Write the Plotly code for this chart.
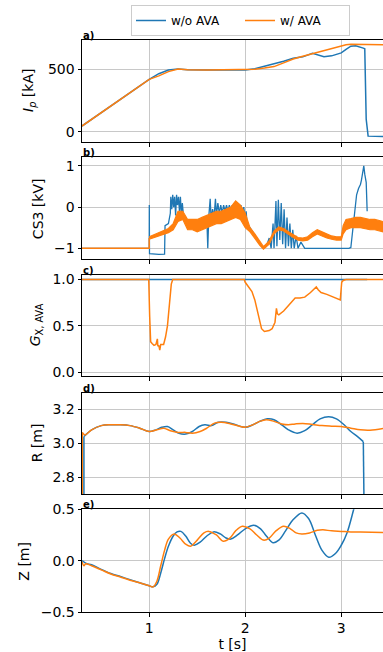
import plotly.graph_objects as go

BLUE = "#1f77b4"
ORANGE = "#ff7f0e"

# ---------------- data ----------------
# a) plasma current [kA]
t_ip_wo = [0.30, 0.50, 0.70, 0.90, 1.00, 1.10, 1.20, 1.30, 1.40, 1.60, 1.80, 2.00, 2.10, 2.20, 2.30, 2.40,
           2.50, 2.60, 2.70, 2.75, 2.82, 2.90, 3.00, 3.05, 3.10, 3.15, 3.20, 3.23, 3.245, 3.26, 3.28, 3.435]
ip_wo = [46, 153, 260, 367, 420, 465, 495, 503, 497, 495, 496, 495, 505, 525, 540, 565,
         588, 600, 628, 618, 601, 608, 632, 660, 685, 688, 680, 670, 665, 100, -35, -38]
t_ip_w = [0.30, 0.50, 0.70, 0.90, 1.00, 1.10, 1.20, 1.30, 1.40, 1.60, 1.80, 2.00, 2.10, 2.20, 2.30, 2.40,
          2.50, 2.60, 2.70, 2.80, 2.90, 3.00, 3.05, 3.10, 3.435]
ip_w = [46, 153, 260, 367, 420, 448, 482, 503, 497, 495, 496, 495, 500, 510, 522, 552,
        583, 605, 625, 645, 665, 688, 697, 700, 697]

# b) CS3 voltage [kV]
t_cs_wo = [0.30, 1.00, 1.001, 1.003, 1.10, 1.16, 1.165, 1.20, 1.22, 1.225, 1.235, 1.245, 1.255, 1.265, 1.275,
           1.285, 1.295, 1.305, 1.315, 1.325, 1.335, 1.345, 1.36, 1.38, 1.40, 1.43, 1.46, 1.49, 1.52, 1.55,
           1.58, 1.60, 1.61, 1.62, 1.635, 1.645, 1.66, 1.675, 1.69, 1.70, 1.715, 1.73, 1.745, 1.76, 1.775,
           1.79, 1.805, 1.82, 1.835, 1.85, 1.865, 1.88, 1.895, 1.91, 1.925, 1.94, 1.955, 1.97, 1.985, 2.00,
           2.01, 2.02, 2.05, 2.08, 2.12, 2.16, 2.19, 2.22, 2.25, 2.27, 2.29, 2.30, 2.32, 2.33, 2.345, 2.36,
           2.375, 2.39, 2.405, 2.42, 2.435, 2.45, 2.465, 2.48, 2.495, 2.51, 2.53, 2.55, 2.58, 2.62, 3.08,
           3.10, 3.12, 3.14, 3.16, 3.18, 3.20, 3.21, 3.22, 3.235, 3.245, 3.26, 3.27]
cs_wo = [-1.0, -1.0, 0.05, -1.13, -1.15, -1.14, -0.45, -0.40, -0.15, 0.25, -0.05, 0.30, 0.0, 0.25, -0.2,
         0.30, 0.05, 0.25, -0.1, 0.25, -0.2, 0.10, -0.30, -0.25, -0.40, -0.30, -0.45, -0.35, -0.45, -0.35,
         -0.40, -0.25, -1.0, -0.25, 0.20, -0.30, -0.05, -0.25, 0.20, -0.20, 0.10, -0.15, 0.05, -0.15, 0.05,
         -0.10, 0.05, -0.10, 0.05, -0.10, 0.05, -0.10, 0.05, -0.10, 0.05, -0.10, 0.05, -0.10, 0.0, -0.30,
         -0.10, -0.45, -0.50, -0.60, -0.75, -0.92, -1.0, -0.95, -0.75, -1.0, -0.40, -1.0, 0.15, -0.95, 0.18, -0.80,
         0.10, -0.90, -0.05, -1.0, -0.25, -0.95, -0.40, -1.0, -0.55, -1.0, -0.70, -1.0, -0.85, -1.0, -1.0,
         -0.98, -0.50, -0.20, 0.30, 0.45, 0.55, 0.65, 0.80, 1.0, 0.80, 0.60, -0.10]
t_cs_w_flat = [0.30, 1.00, 1.00]
cs_w_flat = [-1.0, -1.0, -0.75]
# orange noisy band (lower / upper envelope)
t_cs_band = [1.00, 1.10, 1.20, 1.25, 1.30, 1.35, 1.40, 1.45, 1.50, 1.55, 1.60, 1.65, 1.70, 1.75, 1.80, 1.85,
             1.90, 1.95, 2.00, 2.05, 2.10, 2.15, 2.19, 2.25, 2.30, 2.35, 2.40, 2.45, 2.50, 2.55, 2.60, 2.65,
             2.70, 2.75, 2.80, 2.85, 2.90, 2.95, 3.00, 3.02, 3.05, 3.10, 3.15, 3.20, 3.25, 3.30, 3.35, 3.40, 3.435]
cs_w_lo = [-0.78, -0.70, -0.62, -0.55, -0.35, -0.30, -0.55, -0.55, -0.60, -0.55, -0.50, -0.45, -0.40, -0.40,
           -0.35, -0.30, -0.25, -0.30, -0.50, -0.60, -0.75, -0.92, -1.02, -0.90, -0.65, -0.55, -0.58, -0.66,
           -0.74, -0.80, -0.82, -0.80, -0.72, -0.65, -0.70, -0.75, -0.78, -0.80, -0.80, -0.65, -0.55, -0.50,
           -0.50, -0.50, -0.52, -0.55, -0.55, -0.58, -0.60]
cs_w_hi = [-0.72, -0.62, -0.52, -0.40, -0.10, -0.10, -0.30, -0.30, -0.30, -0.25, -0.20, -0.15, -0.10, -0.10,
           -0.05, 0.00, 0.15, 0.05, -0.15, -0.50, -0.65, -0.84, -0.96, -0.82, -0.58, -0.48, -0.52, -0.60,
           -0.68, -0.74, -0.75, -0.72, -0.62, -0.55, -0.60, -0.66, -0.70, -0.72, -0.72, -0.45, -0.30, -0.28,
           -0.25, -0.25, -0.28, -0.30, -0.30, -0.32, -0.35]

# c) G_X,AVA
t_g_wo = [0.30, 3.27]
g_wo = [1.0, 1.0]
t_g_w = [0.30, 0.995, 1.005, 1.015, 1.03, 1.05, 1.07, 1.085, 1.09, 1.10, 1.11, 1.12, 1.15, 1.17, 1.19, 1.21,
         1.23, 1.245, 1.30, 1.99, 2.00, 2.02, 2.07, 2.10, 2.14, 2.17, 2.20, 2.25, 2.28, 2.31, 2.325, 2.335,
         2.35, 2.40, 2.46, 2.52, 2.57, 2.62, 2.68, 2.74, 2.76, 2.79, 2.85, 2.90, 2.95, 2.99, 3.005, 3.02,
         3.05, 3.435]
g_w = [1.0, 1.0, 0.60, 0.33, 0.31, 0.29, 0.30, 0.36, 0.28, 0.29, 0.24, 0.30, 0.30, 0.38, 0.50, 0.75,
       0.95, 1.0, 1.0, 1.0, 0.97, 0.94, 0.87, 0.78, 0.62, 0.47, 0.44, 0.45, 0.47, 0.54, 0.69, 0.63,
       0.62, 0.66, 0.73, 0.80, 0.80, 0.81, 0.86, 0.92, 0.89, 0.86, 0.84, 0.82, 0.80, 0.78, 0.97, 0.99,
       1.0, 1.0]

# d) R [m]
t_r_wo = [0.32, 0.40, 0.50, 0.60, 0.70, 0.80, 0.90, 1.00, 1.07, 1.13, 1.19, 1.25, 1.31, 1.38, 1.45, 1.52,
          1.58, 1.65, 1.72, 1.80, 1.90, 2.00, 2.08, 2.15, 2.23, 2.30, 2.38, 2.45, 2.54, 2.62, 2.70, 2.78,
          2.87, 2.95, 3.03, 3.10, 3.17, 3.23]
r_wo = [3.04, 3.08, 3.105, 3.11, 3.11, 3.105, 3.09, 3.07, 3.08, 3.095, 3.10, 3.08, 3.06, 3.055, 3.07, 3.10,
        3.11, 3.105, 3.125, 3.125, 3.11, 3.095, 3.11, 3.13, 3.145, 3.14, 3.11, 3.08, 3.06, 3.075, 3.11, 3.145,
        3.158, 3.145, 3.11, 3.07, 3.04, 3.01]
t_r_wo_jump = [0.32, 0.32, None, 3.23, 3.24]
r_wo_jump = [2.5, 3.04, None, 3.01, 2.5]
t_r_w = [0.303, 0.33, 0.40, 0.50, 0.60, 0.70, 0.80, 0.90, 1.00, 1.08, 1.15, 1.22, 1.30, 1.38, 1.45, 1.53,
         1.60, 1.68, 1.75, 1.85, 1.95, 2.00, 2.08, 2.15, 2.22, 2.30, 2.38, 2.45, 2.52, 2.60, 2.70, 2.80,
         2.90, 3.00, 3.10, 3.20, 3.30, 3.435]
r_w = [3.065, 3.05, 3.08, 3.105, 3.11, 3.11, 3.105, 3.09, 3.07, 3.08, 3.09, 3.075, 3.065, 3.065, 3.06, 3.07,
       3.09, 3.12, 3.125, 3.115, 3.10, 3.095, 3.11, 3.13, 3.14, 3.13, 3.115, 3.11, 3.115, 3.118, 3.112, 3.105,
       3.102, 3.10, 3.09, 3.08, 3.078, 3.088]
t_r_w_jump = [0.303, 0.303]
r_w_jump = [2.5, 3.065]

# e) Z [m]
t_z_wo = [0.30, 0.35, 0.40, 0.50, 0.60, 0.70, 0.80, 0.90, 1.00, 1.04, 1.08, 1.12, 1.16, 1.20, 1.25, 1.29,
          1.33, 1.38, 1.43, 1.47, 1.53, 1.60, 1.67, 1.74, 1.80, 1.85, 1.92, 2.00, 2.09, 2.16, 2.22, 2.29,
          2.35, 2.42, 2.50, 2.59, 2.66, 2.73, 2.80, 2.87, 2.94, 3.00, 3.06, 3.13, 3.20]
z_wo = [0.0, -0.03, -0.04, -0.085, -0.125, -0.155, -0.185, -0.215, -0.245, -0.255, -0.23, -0.12, 0.02, 0.14,
        0.24, 0.28, 0.285, 0.24, 0.17, 0.15, 0.18, 0.24, 0.28, 0.26, 0.22, 0.21, 0.25, 0.31, 0.345, 0.31,
        0.24, 0.175, 0.20, 0.29, 0.40, 0.465, 0.41, 0.25, 0.10, 0.033, 0.07, 0.15, 0.27, 0.50, 0.75]
t_z_w = [0.30, 0.32, 0.34, 0.40, 0.50, 0.60, 0.70, 0.80, 0.90, 1.00, 1.04, 1.08, 1.12, 1.16, 1.20, 1.26,
         1.32, 1.38, 1.43, 1.50, 1.57, 1.62, 1.70, 1.77, 1.84, 1.90, 1.97, 2.05, 2.12, 2.19, 2.25, 2.32,
         2.40, 2.47, 2.53, 2.59, 2.67, 2.75, 2.81, 2.90, 3.00, 3.10, 3.20, 3.435]
z_w = [-0.01, -0.05, -0.03, -0.05, -0.09, -0.13, -0.16, -0.19, -0.215, -0.245, -0.255, -0.2, -0.05, 0.1,
       0.21, 0.26, 0.22, 0.16, 0.14, 0.20, 0.27, 0.285, 0.25, 0.19, 0.22, 0.29, 0.335, 0.31, 0.25, 0.20,
       0.22, 0.29, 0.335, 0.31, 0.27, 0.26, 0.27, 0.295, 0.30, 0.29, 0.285, 0.28, 0.278, 0.275]

x_ticks = [1, 2, 3]
x_tick_labels = ["1", "2", "3"]
panel_labels = ["a)", "b)", "c)", "d)", "e)"]
y_titles = ["<i>I</i><sub><i>p</i></sub> [kA]", "CS3 [kV]", "<i>G</i><sub>X, AVA</sub>", "R [m]", "Z [m]"]
y_ranges = [[-82, 735], [-1.26, 1.21], [-0.04, 1.054], [2.70, 3.30], [-0.5, 0.5]]
y_ticks = [[0, 500], [-1, 0, 1], [0.0, 0.5, 1.0], [2.8, 3.0, 3.2], [-0.5, 0.0, 0.5]]
y_fmt = ["d", "d", ".1f", ".1f", ".1f"]

# ---------------- figure ----------------
W, H = 383, 652
ML, MR, MT, MB = 82, 0, 40, 40
PH = H - MT - MB
panel_px = [(40, 142), (157.3, 259), (274.5, 376), (392.7, 494), (509.3, 611.7)]
domains = [[1 - (b - MT) / PH, 1 - (t - MT) / PH] for t, b in panel_px]
domains[0][1] = 1.0
domains[4][0] = 0.0
title_x_px = [29, 38, 36, 37, 24]

fig = go.Figure()

def add(row, x, y, color, name=None, legend=False, shape="linear", width=1.5):
    fig.add_trace(go.Scatter(
        x=x, y=y, mode="lines", line=dict(color=color, width=width, shape=shape),
        name=name, showlegend=legend, legendgroup=name,
        xaxis="x" if row == 1 else f"x{row}", yaxis="y" if row == 1 else f"y{row}",
        hoverinfo="skip", connectgaps=False))

# a
add(1, t_ip_wo, ip_wo, BLUE, "w/o AVA", True)
add(1, t_ip_w, ip_w, ORANGE, "w/ AVA", True)
# b
add(2, t_cs_wo, cs_wo, BLUE, "w/o AVA", width=1.3)
add(2, t_cs_w_flat, cs_w_flat, ORANGE, "w/ AVA")
fig.add_trace(go.Scatter(
    x=t_cs_band + t_cs_band[::-1], y=cs_w_hi + cs_w_lo[::-1], mode="lines", fill="toself",
    fillcolor=ORANGE, line=dict(color=ORANGE, width=1.2), showlegend=False, hoverinfo="skip",
    xaxis="x2", yaxis="y2"))
# c
add(3, t_g_wo, g_wo, BLUE, "w/o AVA")
add(3, t_g_w, g_w, ORANGE, "w/ AVA")
# d
add(4, t_r_wo, r_wo, BLUE, "w/o AVA", shape="spline")
add(4, t_r_wo_jump, r_wo_jump, BLUE, "w/o AVA")
add(4, t_r_w, r_w, ORANGE, "w/ AVA", shape="spline")
add(4, t_r_w_jump, r_w_jump, ORANGE, "w/ AVA")
# e
add(5, t_z_wo, z_wo, BLUE, "w/o AVA", shape="spline")
add(5, t_z_w, z_w, ORANGE, "w/ AVA", shape="spline")

FONT = "DejaVu Sans"
layout = dict(
    width=W, height=H, margin=dict(l=ML, r=MR, t=MT, b=MB, autoexpand=False),
    paper_bgcolor="white", plot_bgcolor="white",
    font=dict(family=FONT, size=14, color="black"),
    showlegend=True,
    legend=dict(orientation="h", x=(131 - ML) / (W - ML), xanchor="left",
                y=1 + (40 - 20.5) / PH, yanchor="middle",
                bgcolor="white", bordercolor="#cccccc", borderwidth=1,
                font=dict(size=12), itemwidth=30, tracegroupgap=0,
                entrywidth=64, entrywidthmode="pixels"),
)
annotations = []
for i in range(5):
    k = "" if i == 0 else str(i + 1)
    layout[f"xaxis{k}"] = dict(
        domain=[0, 1], anchor=f"y{k}", range=[0.30, 3.435],
        tickvals=x_ticks, ticktext=x_tick_labels, showticklabels=(i == 4),
        ticks="outside", ticklen=3.5, tickwidth=1, tickcolor="black",
        showline=True, linecolor="black", linewidth=1, mirror=True,
        showgrid=True, gridcolor="#c8c8c8", gridwidth=1, zeroline=False,
        **({"matches": "x5"} if i < 4 else {}),
        **({"title": dict(text="t [s]", font=dict(size=14), standoff=2)} if i == 4 else {}),
    )
    layout[f"yaxis{k}"] = dict(
        domain=domains[i], anchor=f"x{k}", range=y_ranges[i],
        tickvals=y_ticks[i], tickformat=y_fmt[i],
        ticks="outside", ticklen=3.5, tickwidth=1, tickcolor="black",
        showline=True, linecolor="black", linewidth=1, mirror=False,
        showgrid=True, gridcolor="#c8c8c8", gridwidth=1, zeroline=False,
    )
    annotations.append(dict(
        text=f"<b>{panel_labels[i]}</b>", xref="paper", yref="paper",
        x=0, y=domains[i][1], xanchor="left", yanchor="bottom", showarrow=False,
        font=dict(size=10, family=FONT), xshift=-1, yshift=-3))
    annotations.append(dict(
        text=y_titles[i], xref="paper", yref="paper",
        x=(title_x_px[i] - ML) / (W - ML - MR), y=(domains[i][0] + domains[i][1]) / 2,
        xanchor="center", yanchor="middle", textangle=-90, showarrow=False,
        font=dict(size=14, family=FONT)))
layout["annotations"] = annotations
fig.update_layout(**layout)

fig.write_html("out.html", config={"displayModeBar": False},
               post_script="document.body.style.margin='0px';document.body.style.overflow='hidden';")
